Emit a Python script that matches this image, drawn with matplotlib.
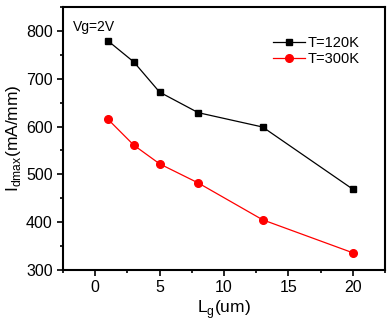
import matplotlib
matplotlib.use('Agg')
import matplotlib.pyplot as plt
from matplotlib.ticker import MultipleLocator

plt.rcParams['font.family'] = ['Liberation Sans', 'DejaVu Sans']

lg = [1, 3, 5, 8, 13, 20]
i_120k = [779, 735, 672, 629, 599, 469]
i_300k = [615, 561, 522, 482, 405, 336]

fig = plt.figure(figsize=(3.92, 3.25), dpi=100)
ax = fig.add_axes([63/392, 55/325, 322/392, 263/325])

ax.plot(lg, i_120k, '-s', color='black', lw=0.9, ms=5, label='T=120K')
ax.plot(lg, i_300k, '-o', color='red', lw=0.9, ms=5.5, label='T=300K')

ax.set_xlim(-2.5, 22.5)
ax.set_ylim(300, 850)
ax.xaxis.set_major_locator(MultipleLocator(5))
ax.xaxis.set_minor_locator(MultipleLocator(2.5))
ax.yaxis.set_major_locator(MultipleLocator(100))
ax.yaxis.set_minor_locator(MultipleLocator(50))
ax.tick_params(which='major', direction='out', length=4, width=1.2, labelsize=11.5)
ax.tick_params(which='minor', direction='out', length=2.5, width=1.2)
for s in ax.spines.values():
    s.set_linewidth(1.5)

ax.set_xlabel(r'L$_\mathregular{g}$(um)', fontsize=12.5, labelpad=2)
ax.set_ylabel(r'I$_\mathregular{dmax}$(mA/mm)', fontsize=12.5, labelpad=2)
ax.text(0.03, 0.95, 'Vg=2V', transform=ax.transAxes, fontsize=10, va='top')
ax.legend(loc='upper left', bbox_to_anchor=(0.61, 0.94), frameon=False, fontsize=10.5,
          handlelength=2.2, handletextpad=0.2, labelspacing=0.15)

fig.savefig('out.png', dpi=100)
